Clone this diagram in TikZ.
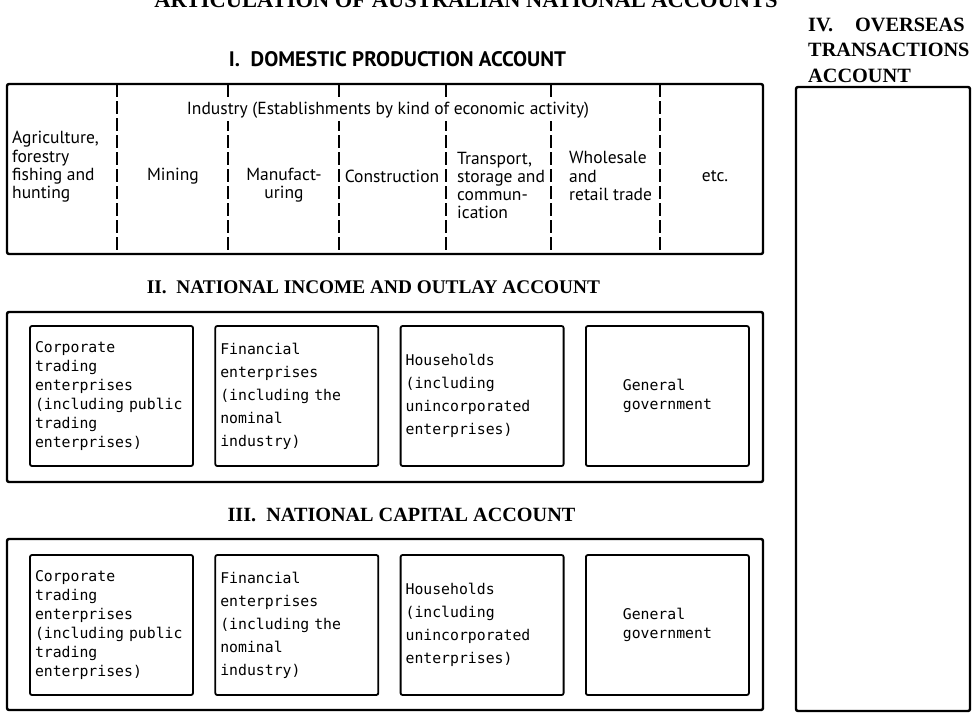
\documentclass[tikz,border=0pt]{standalone}
\usepackage{fontspec}
\setmainfont{Liberation Serif}
\newfontfamily\optfont{PT Sans}
\newfontfamily\typfont{DejaVu Sans Mono}
\usetikzlibrary{positioning}
\tikzstyle{account} = [draw, line width=2.4pt, rounded corners=2pt, inner sep=0pt]
\tikzstyle{sector} = [draw, line width=1.8pt, rounded corners=2pt, minimum width=163pt, minimum height=140pt, inner xsep=5pt, align=left, font=\typfont\fontsize{14.8}{19}\selectfont]
\tikzstyle{sectorleft} = [sector, text width=153pt]
\tikzstyle{airy} = [font=\typfont\fontsize{14.8}{23}\selectfont]
\tikzstyle{heading} = [inner sep=0pt, font=\bfseries\fontsize{19.3}{25.5}\selectfont]
\tikzstyle{industry} = [inner sep=0pt, font=\optfont\fontsize{17.5}{18.3}\selectfont]
\tikzstyle{divider} = [line width=1.6pt, dash pattern=on 13pt off 4pt]

\begin{document}
\begin{tikzpicture}[x=1pt, y=-1pt, node distance=20.5pt]
  \useasboundingbox (0,0) rectangle (974,712);
  % headings
  \node (title) [heading, font=\bfseries\fontsize{22.5}{26}\selectfont, anchor=base] at (466,7) {ARTICULATION OF AUSTRALIAN NATIONAL ACCOUNTS};
  \node (head1) [heading, font=\optfont\bfseries\fontsize{21}{22}\selectfont, anchor=base] at (397.5,66) {I.\ \ DOMESTIC PRODUCTION ACCOUNT};
  \node (head2) [heading, anchor=base] at (373.5,293) {II.\ \ NATIONAL INCOME AND OUTLAY ACCOUNT};
  \node (head3) [heading, font=\bfseries\fontsize{20.2}{25.5}\selectfont, anchor=base] at (401.5,521) {III.\ \ NATIONAL CAPITAL ACCOUNT};
  \node (head4) [heading, font=\bfseries\fontsize{20.3}{25.5}\selectfont, anchor=north west, align=left] at (808,17.5) {IV.\hspace{22pt}OVERSEAS\\TRANSACTIONS\\ACCOUNT};
  % the four account frames
  \node (dom) [account, minimum width=756pt, minimum height=170pt] at (385,169) {};
  \node (inc) [account, minimum width=756pt, minimum height=170pt] at (385,397) {};
  \node (cap) [account, minimum width=756pt, minimum height=171pt] at (385,624.5) {};
  \node (ovs) [account, minimum width=174pt, minimum height=624pt] at (883,399) {};
  % industries
  \foreach \x in {117,228,339,446,551,660}
    \draw [divider] (\x,84) -- (\x,254);
  \node (ind) [industry, fill=white, inner xsep=3pt, inner ysep=3pt] at (388,110) {Industry (Establishments by kind of economic activity)};
  \node (agri) [industry, anchor=west, align=left] at (12,167) {Agriculture,\\forestry\\fishing and\\hunting};
  \node (mine) [industry] at (173,176) {Mining};
  \node (manu) [industry, align=center] at (284,185.5) {Manufact-\\uring};
  \node (cons) [industry] at (392,176) {Construction};
  \node (tran) [industry, anchor=west, align=left] at (457,185.5) {Transport,\\storage and\\commun-\\ication};
  \node (trad) [industry, anchor=west, align=left] at (569,176) {Wholesale\\and\\retail trade};
  \node (etc) [industry] at (715,176) {etc.};
  % sectors, income and outlay
  \node (corp) [sectorleft] at (111.5,396) {Corporate\\trading\\enterprises\\(including public\\trading\\enterprises)};
  \node (fin) [sectorleft, airy, right= of corp] {Financial\\enterprises\\(including the\\nominal\\industry)};
  \node (hh) [sectorleft, airy, right= of fin] {Households\\(including\\unincorporated\\enterprises)};
  \node (gov) [sector, right= of hh] {General\\government};
  % sectors, capital
  \node (corpk) [sectorleft] at (111.5,625) {Corporate\\trading\\enterprises\\(including public\\trading\\enterprises)};
  \node (fink) [sectorleft, airy, right= of corpk] {Financial\\enterprises\\(including the\\nominal\\industry)};
  \node (hhk) [sectorleft, airy, right= of fink] {Households\\(including\\unincorporated\\enterprises)};
  \node (govk) [sector, right= of hhk] {General\\government};
\end{tikzpicture}
\end{document}
